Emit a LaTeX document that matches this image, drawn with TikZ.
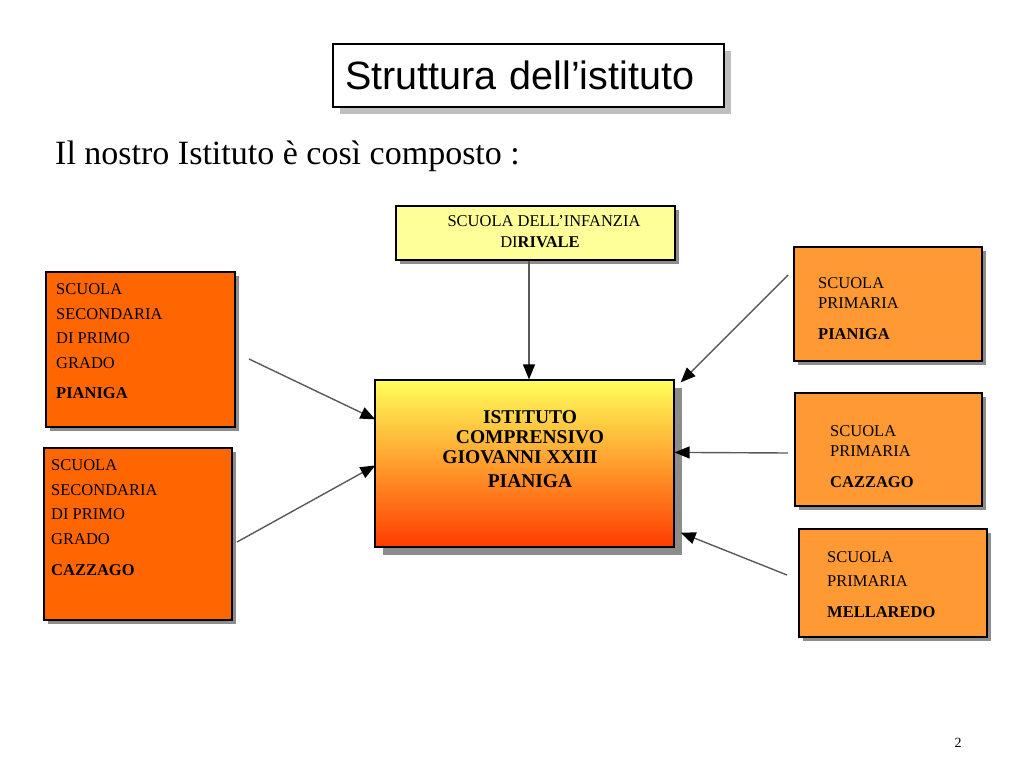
\documentclass[tikz,border=0pt]{standalone}
\usepackage{fontspec}
\setmainfont{Liberation Serif}
\newfontfamily\titlefont{Liberation Sans}
\usepackage{tikz}
\usetikzlibrary{arrows.meta, calc, shadows}
\definecolor{sdOrange}{RGB}{255,102,0}
\definecolor{spOrange}{RGB}{255,153,51}
\definecolor{infYellow}{RGB}{255,255,153}
\definecolor{icTop}{RGB}{255,255,90}
\definecolor{icMid}{RGB}{255,170,45}
\definecolor{icBot}{RGB}{255,60,0}
\definecolor{shd}{RGB}{140,140,140}
\newcommand{\boxfont}{\fontsize{16.5}{24.5}\selectfont}
\tikzset{
  panel/.style={draw, line width=1.2pt, minimum width=#1},
  shd/.style={drop shadow={shadow xshift=4pt, shadow yshift=-4pt, fill=shd, opacity=1}},
  sdbox/.style={panel=188pt, shd, fill=sdOrange},
  spbox/.style={panel=188pt, shd, fill=spOrange},
  lbl/.style={anchor=north west, inner sep=0pt, align=left, font=\boxfont},
  arr/.style={draw=black!65, line width=1.4pt, -{Triangle[length=15pt, width=12pt, color=black]}},
}
\begin{document}
\begin{tikzpicture}[x=1pt, y=-1pt]
    \useasboundingbox (0,0) rectangle (1024,768);
    % title
    \node[panel=391pt, minimum height=63pt, fill=white, inner xsep=12pt, text width=367pt, align=left,
      drop shadow={shadow xshift=7pt, shadow yshift=-7pt, fill=black!25, opacity=1},
      font=\titlefont\fontsize{39.5}{44}\selectfont] (title) at (528.5,75.5) {Struttura dell’istituto};
    \node[anchor=base west, inner sep=0pt, font=\fontsize{34}{40}\selectfont] (intro) at (55,164)
      {Il nostro Istituto è così composto :};
    % centre
    \node[panel=299pt, minimum height=167pt, top color=icTop, middle color=icMid, bottom color=icBot,
      drop shadow={shadow xshift=8pt, shadow yshift=-8pt, fill=shd, opacity=1}] (ic) at (524.5,463.5) {};
    \node[anchor=north, inner sep=0pt, align=center, font=\bfseries\fontsize{19.5}{20}\selectfont] (icTxt) at (530,410)
      {ISTITUTO\\COMPRENSIVO\\\mbox{GIOVANNI XXIII\hspace{20pt}}\\[4pt]PIANIGA};
    \node[panel=279pt, minimum height=54pt, shd, fill=infYellow] (inf) at (535.5,233) {};
    \node[anchor=north, inner sep=0pt, align=center, font=\fontsize{16.5}{21}\selectfont] (infTxt) at (544,215.5)
      {SCUOLA DELL’INFANZIA\\\mbox{DI\textbf{RIVALE}\hspace{8pt}}};
    % left
    \node[sdbox, minimum width=189pt, minimum height=155pt] (sdP) at (140.5,349.5) {};
    \node[lbl] (sdPTxt) at (56,283.5) {SCUOLA\\SECONDARIA\\DI PRIMO\\GRADO\\[5.5pt]\textbf{PIANIGA}};
    \node[sdbox, minimum height=172pt] (sdC) at (138,534) {};
    \node[lbl] (sdCTxt) at (51,459.5) {SCUOLA\\SECONDARIA\\DI PRIMO\\GRADO\\[6.5pt]\textbf{CAZZAGO}};
    % right
    \node[spbox, minimum height=114pt] (spP) at (888,304) {};
    \node[lbl] (spPTxt) at (818,277.5) {SCUOLA\\[-4.5pt]PRIMARIA\\[6.5pt]\textbf{PIANIGA}};
    \node[spbox, minimum width=187pt, minimum height=113pt] (spC) at (888.5,449.5) {};
    \node[lbl] (spCTxt) at (830,425.5) {SCUOLA\\[-4.5pt]PRIMARIA\\[6.5pt]\textbf{CAZZAGO}};
    \node[spbox, minimum height=108pt] (spM) at (893,583) {};
    \node[lbl] (spMTxt) at (827,551.5) {SCUOLA\\[-0.5pt]PRIMARIA\\[6.5pt]\textbf{MELLAREDO}};
    % arrows
    \coordinate (infOut) at ([xshift=-6.5pt]inf.south);
    \coordinate (fromSdP) at (249,359);
    \coordinate (fromSdC) at (237,542);
    \coordinate (fromSpP) at (788,275);
    \coordinate (fromSpC) at (788,453);
    \coordinate (fromSpM) at (787,575);
    \draw[arr] (infOut) -- (infOut |- ic.north);
    \draw[arr] (fromSdP) -- ($(ic.north west)+(1,40)$);
    \draw[arr] (fromSdC) -- ($(ic.north west)+(1,86)$);
    \draw[arr] (fromSpP) -- ($(ic.north east)+(6,3)$);
    \draw[arr] (fromSpC) -- ($(ic.north east)+(0,73)$);
    \draw[arr] (fromSpM) -- ($(ic.south east)+(6,-15)$);
    \node[font=\fontsize{14}{16}\selectfont, inner sep=0pt] (pgNum) at (958,743) {2};
\end{tikzpicture}
\end{document}
